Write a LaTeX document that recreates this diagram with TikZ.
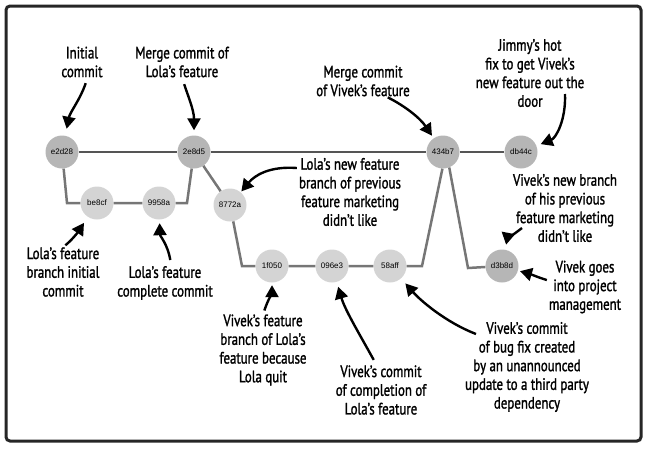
\documentclass[tikz,border=0pt]{standalone}
\usepackage{fontspec}
\setmainfont{PT Sans}[FakeStretch=0.78, FakeBold=1.4]
\setsansfont{Liberation Sans}
\usetikzlibrary{arrows.meta, positioning}
\definecolor{gra}{RGB}{182, 182, 182}
\definecolor{grb}{RGB}{212, 212, 212}
\definecolor{linea}{RGB}{85, 85, 85}
\definecolor{lineb}{RGB}{118, 118, 118}
\tikzset{
    commitnode/.style = {circle, draw=none, fill=gra, minimum size=33pt, inner sep=0pt,
      node distance=0em, font=\sffamily\fontsize{8}{8}\selectfont},
    branchnode/.style = {commitnode, fill=grb},
    textnode/.style  = {draw=none, fill=none, rectangle, inner sep=0pt, node distance=0em,
      align=center, font=\fontsize{16.5}{18.7}\selectfont},
    connect/.style = {black, line width=2.4pt, -{Triangle[width=13pt, length=12pt]}},
    trunk/.style = {linea, line width=2.5pt},
    branch/.style = {lineb, line width=2.5pt}
}

\begin{document}
\begin{tikzpicture}[x=1pt, y=-1pt]
\useasboundingbox (0,0) rectangle (650,450);
\draw [line width=3pt, black!85, rounded corners=4pt] (6,6) rectangle (641,441);

% commits
\node [commitnode, name=init] at (62,152) {e2d28};
\node [commitnode, name=lolamerge, right of = init, xshift=132pt] {2e8d5};
\node [commitnode, name=vivekmerge, right of = lolamerge, xshift=249pt] {434b7};
\node [commitnode, name=hotfix, right of = vivekmerge, xshift=78pt] {db44c};
\node [branchnode, name=lolastart, right of = init, xshift=35pt, yshift=-51pt] {be8cf};
\node [branchnode, name=lolaend, right of = lolastart, xshift=62pt] {9958a};
\node [branchnode, name=lolanew, right of = lolamerge, xshift=36pt, yshift=-53pt] {8772a};
\node [branchnode, name=vivekstart, below of = lolanew, xshift=42pt, yshift=-61pt] {1f050};
\node [branchnode, name=vivekend, right of = vivekstart, xshift=60pt] {096e3};
\node [branchnode, name=bugend, right of = vivekend, xshift=58pt] {58aff};
\node [commitnode, name=vivekpm, right of = bugend, xshift=112pt] {d3b8d};

% branches
\coordinate (lolaleft) at (67,203);
\coordinate (lolaright) at (187,203);
\coordinate (vivekleft) at (242,266);
\coordinate (vivekright) at (422,266);
\coordinate (pmleft) at (468,268);
\draw [trunk] (init) -- (lolamerge) -- (vivekmerge) -- (hotfix);
\draw [branch] (init) -- (lolaleft) -- (lolastart) -- (lolaend) -- (lolaright) -- (lolamerge);
\draw [branch] (lolamerge) -- (lolanew) -- (vivekleft) -- (vivekstart) -- (vivekend)
    -- (bugend) -- (vivekright) -- (vivekmerge.-92);
\draw [branch] (vivekmerge.-68) -- (pmleft) -- (vivekpm);

% labels
\node [textnode, name=initialtext] at (82,62) {Initial\\commit};
\node [textnode, name=lolamergetext] at (182,62) {Merge commit of\\Lola's feature};
\node [textnode, name=vivekmergetext] at (363,81) {Merge commit\\of Vivek's feature};
\node [textnode, name=hotfixtext] at (530,73) {Jimmy's hot\\fix to get Vivek's\\new feature out the\\door};
\node [textnode, name=lolanewtext] at (350,192) {Lola's new feature\\branch of previous\\feature marketing\\didn't like};
\node [textnode, name=viveknewtext] at (565,208) {Vivek's new branch\\of his previous\\feature marketing\\didn't like};
\node [textnode, name=vivekpmtext] at (585,287) {Vivek goes\\into project\\management};
\node [textnode, name=lolastarttext] at (63,272) {Lola's feature\\branch initial\\commit};
\node [textnode, name=lolaendtext] at (165,283) {Lola's feature\\complete commit};
\node [textnode, name=vivekstarttext] at (263,350) {Vivek's feature\\branch of Lola's\\feature because\\Lola quit};
\node [textnode, name=vivekendtext] at (381,390) {Vivek's commit\\of completion of\\Lola's feature};
\node [textnode, name=bugendtext] at (527,367) {Vivek's commit\\of bug fix created\\by an unannounced\\update to a third party\\dependency};

% arrows
\coordinate (hotfixfrom) at (565,94);
\coordinate (viveknewfrom) at (522,228);
\coordinate (bugendfrom) at (476,334);
\draw [connect, shorten <=6pt, shorten >=7pt] (initialtext.-70) .. controls (80,100) and (70,112) .. (init);
\draw [connect, shorten <=7pt, shorten >=5pt] (lolamergetext.south) .. controls (188,96) and (194,110) .. (lolamerge);
\draw [connect, shorten <=2pt, shorten >=3pt] (vivekmergetext.-34) .. controls (405,106) and (420,118) .. (vivekmerge);
\draw [connect, shorten >=4.5pt] (hotfixfrom) .. controls (566,120) and (556,138) .. (hotfix);
\draw [connect, shorten <=2pt, shorten >=1pt] (lolanewtext.155) .. controls (270,166) and (255,175) .. (lolanew);
\draw [connect, shorten >=5pt] (viveknewfrom) .. controls (514,234) and (507,240) .. (vivekpm);
\draw [connect, shorten <=2pt, shorten >=2pt] (vivekpmtext.170) .. controls (540,278) and (530,274) .. (vivekpm);
\draw [connect, shorten <=3pt, shorten >=7pt] (lolastarttext.north) .. controls (72,240) and (78,232) .. (lolastart);
\draw [connect, shorten <=6pt, shorten >=3.5pt] (lolaendtext.70) .. controls (168,245) and (160,236) .. (lolaend);
\draw [connect, shorten <=4pt, shorten >=2.5pt] (vivekstarttext.north) .. controls (268,300) and (272,292) .. (vivekstart);
\draw [connect, shorten <=6pt, shorten >=5pt] (vivekendtext.100) .. controls (360,335) and (345,310) .. (vivekend);
\draw [connect, shorten >=6.5pt] (bugendfrom) .. controls (445,322) and (420,300) .. (bugend);
\end{tikzpicture}
\end{document}
